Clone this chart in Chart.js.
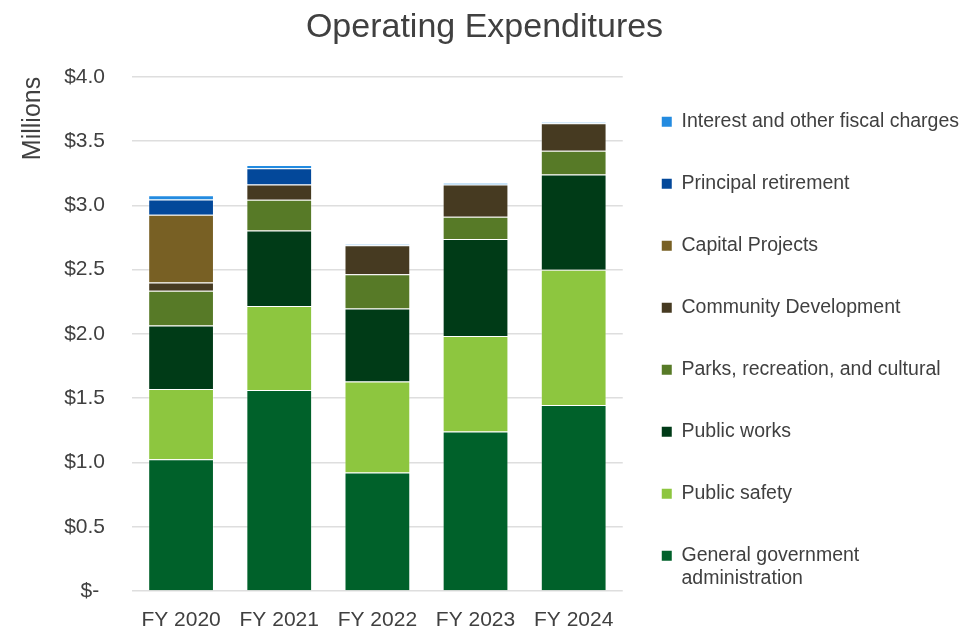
<!DOCTYPE html>
<html>
<head>
<meta charset="utf-8">
<script src="https://cdn.jsdelivr.net/npm/chart.js@4"></script>
<style>
  html, body { margin: 0; padding: 0; background: #fff; }
  .wrap { width: 975px; height: 631px; }
</style>
</head>
<body>
<div class="wrap"><canvas class="expenditures-chart"></canvas></div>
<script>
// values in millions of dollars
const years = ["FY 2020", "FY 2021", "FY 2022", "FY 2023", "FY 2024"];

const generalGov = [1.025, 1.564, 0.921, 1.240, 1.447];
const publicSafety = [0.547, 0.654, 0.708, 0.744, 1.053];
const publicWorks = [0.493, 0.586, 0.568, 0.755, 0.740];
const parksRec = [0.270, 0.239, 0.267, 0.172, 0.184];
const communityDev = [0.064, 0.119, 0.226, 0.251, 0.215];
const capitalProjects = [0.527, 0, 0, 0, 0];
const principalRet = [0.119, 0.127, 0, 0, 0];
const interestCharges = [0.034, 0.024, 0.008, 0.011, 0.008];

const yTicks = [0, 0.5, 1.0, 1.5, 2.0, 2.5, 3.0, 3.5, 4.0];

const textColor = "#404040";
const font = "'Liberation Sans', Arial, sans-serif";

const series = [
  ["General government administration", generalGov, "#00612a"],
  ["Public safety", publicSafety, "#8dc63f"],
  ["Public works", publicWorks, "#003b17"],
  ["Parks, recreation, and cultural", parksRec, "#577a27"],
  ["Community Development", communityDev, "#463a21"],
  ["Capital Projects", capitalProjects, "#786024"],
  ["Principal retirement", principalRet, "#03489a"],
  ["Interest and other fiscal charges", interestCharges, "#238be0"],
];

// long legend entry breaks onto two lines
const legendLines = {
  "General government administration": ["General government", "administration"],
};

const ctx = document.querySelector(".expenditures-chart");

new Chart(ctx, {
  type: "bar",
  data: {
    labels: years,
    datasets: series.map(([label, data, color]) => ({
      label,
      data,
      backgroundColor: color,
      borderColor: "rgba(255,255,255,0.3)",
      borderWidth: 1,
      categoryPercentage: 0.67,
      barPercentage: 1,
    })),
  },
  options: {
    maintainAspectRatio: false,
    animation: false,
    layout: { padding: { right: 6 } },
    plugins: {
      title: {
        display: true,
        text: "Operating Expenditures",
        color: textColor,
        font: { family: font, size: 34, weight: "normal" },
        padding: { top: 7, bottom: 29 },
      },
      legend: {
        position: "right",
        align: "end",
        reverse: true,
        maxWidth: 420,
        labels: {
          color: textColor,
          font: { family: font, size: 19.5, lineHeight: 1.18 },
          boxWidth: 10,
          boxHeight: 10,
          padding: 39,
          generateLabels: (chart) =>
            Chart.defaults.plugins.legend.labels.generateLabels(chart).map((item) => ({
              ...item,
              text: legendLines[item.text] || [item.text],
              lineWidth: 0,
            })),
        },
      },
      tooltip: { enabled: false },
    },
    scales: {
      x: {
        stacked: true,
        grid: { display: false, drawTicks: false },
        border: { display: false },
        ticks: {
          color: textColor,
          font: { family: font, size: 21, lineHeight: 1 },
          padding: 19,
        },
        afterFit: (scale) => { scale.height = 40; },
      },
      y: {
        stacked: true,
        min: 0,
        max: 4,
        afterBuildTicks: (scale) => { scale.ticks = yTicks.map((v) => ({ value: v })); },
        grid: { color: "#dedede", lineWidth: 1.5, drawTicks: false },
        border: { display: false },
        ticks: {
          color: textColor,
          font: { family: font, size: 21 },
          padding: 27,
          callback: (v) => (v === 0 ? "$- " : "$" + v.toFixed(1)),
        },
        title: {
          display: true,
          text: "Millions",
          align: "end",
          color: textColor,
          font: { family: font, size: 25 },
          padding: { top: 18, bottom: 0 },
        },
        afterFit: (scale) => { scale.width = 132; },
      },
    },
  },
});
</script>
</body>
</html>
